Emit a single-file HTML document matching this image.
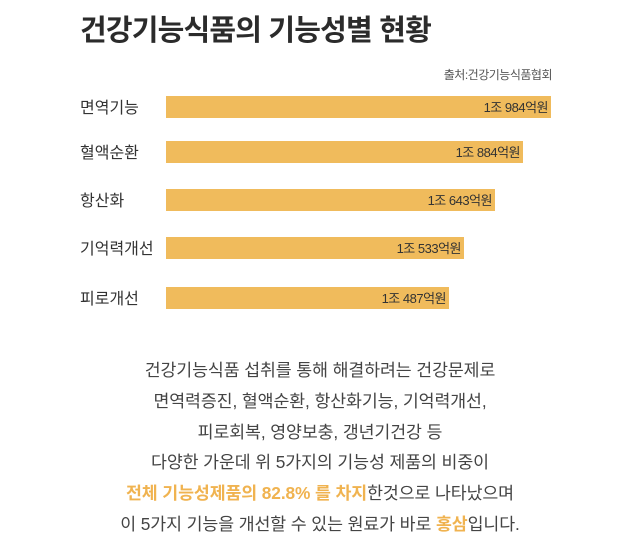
<!DOCTYPE html>
<html><head><meta charset="utf-8"><style>
body{margin:0;width:640px;height:550px;background:#fff;font-family:"Liberation Sans","Noto Sans CJK KR",sans-serif;position:relative;overflow:hidden;color:#333}
.t{position:absolute;left:80px;top:7px;font-size:29px;font-weight:bold;color:#2b2b2b;letter-spacing:-0.8px}
.src{position:absolute;right:88px;top:66px;font-size:12px;color:#555;letter-spacing:-0.5px}
.lab{position:absolute;left:80px;font-size:16px;color:#333;line-height:22px;margin-top:2px}
.bar{position:absolute;left:166px;height:22px;background:#f0bb5c}
.bar span{position:absolute;right:3px;top:1px;line-height:22px;font-size:13px;color:#333;letter-spacing:-0.5px}
.p{position:absolute;left:0;width:640px;top:355px;text-align:center;font-size:17.3px;line-height:30.8px;color:#444;letter-spacing:-0.1px}
.o{color:#f0b350;font-weight:bold}
</style></head><body>
<div class="t">건강기능식품의 기능성별 현황</div>
<div class="src">출처:건강기능식품협회</div>
<div class="lab" style="top:96px">면역기능</div><div class="bar" style="top:96px;width:385px"><span>1조 984억원</span></div>
<div class="lab" style="top:141px">혈액순환</div><div class="bar" style="top:141px;width:357px"><span>1조 884억원</span></div>
<div class="lab" style="top:189px">항산화</div><div class="bar" style="top:189px;width:329px"><span>1조 643억원</span></div>
<div class="lab" style="top:237px">기억력개선</div><div class="bar" style="top:237px;width:298px"><span>1조 533억원</span></div>
<div class="lab" style="top:287px">피로개선</div><div class="bar" style="top:287px;width:283px"><span>1조 487억원</span></div>
<div class="p">건강기능식품 섭취를 통해 해결하려는 건강문제로<br>면역력증진, 혈액순환, 항산화기능, 기억력개선,<br>피로회복, 영양보충, 갱년기건강 등<br>다양한 가운데 위 5가지의 기능성 제품의 비중이<br><span class="o">전체 기능성제품의 82.8% 를 차지</span>한것으로 나타났으며<br>이 5가지 기능을 개선할 수 있는 원료가 바로 <span class="o">홍삼</span>입니다.</div>
</body></html>
